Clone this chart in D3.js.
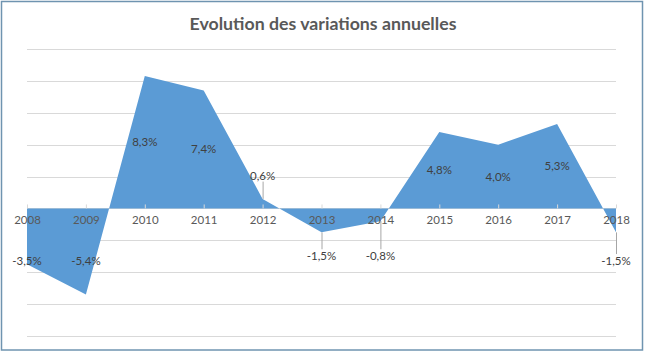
<!DOCTYPE html>
<html>
<head>
<meta charset="utf-8">
<script src="https://cdn.jsdelivr.net/npm/d3@7"></script>
<style>
  html, body { margin: 0; padding: 0; background: #fff; }
  svg { display: block; }
</style>
</head>
<body>
<div id="chart"></div>
<script>
// ---- data ----
const years = ["2008","2009","2010","2011","2012","2013","2014","2015","2016","2017","2018"];
const variations = [-3.5, -5.4, 8.3, 7.4, 0.6, -1.5, -0.8, 4.8, 4.0, 5.3, -1.5];
const labels = ["-3,5%","-5,4%","8,3%","7,4%","0,6%","-1,5%","-0,8%","4,8%","4,0%","5,3%","-1,5%"];
const gridTicks = [-8, -6, -4, -2, 0, 2, 4, 6, 8, 10];
const title = "Evolution des variations annuelles";

// label placement (value units) for manually moved labels; null = centred in area
const labelAt = [-3.3, -3.3, null, null, 2.06, -3.0, -3.0, null, null, null, -3.3];
const leader = [false, false, false, false, true, true, true, false, false, false, true];

// ---- layout ----
const W = 646, H = 355;
const svg = d3.select("#chart").append("svg").attr("width", W).attr("height", H);

svg.append("rect").attr("x", 1.5).attr("y", 1.5).attr("width", 641).attr("height", 348.5)
  .attr("fill", "#fff").attr("stroke", "#6f94b0").attr("stroke-width", 1.5);

const x = d3.scalePoint().domain(years).range([27, 616]);
const y = d3.scaleLinear().domain([-8, 10]).range([336, 49]);

// gridlines
svg.append("g").selectAll("line").data(gridTicks).join("line")
  .attr("x1", 27).attr("x2", 616)
  .attr("y1", d => Math.round(y(d)) + 0.5).attr("y2", d => Math.round(y(d)) + 0.5)
  .attr("stroke", "#d9d9d9").attr("stroke-width", 1);

// title
const t = svg.append("text").attr("x", 323).attr("y", 30).attr("text-anchor", "middle")
  .attr("font-family", "Lato, 'Open Sans', sans-serif").attr("font-weight", "bold")
  .attr("font-size", 18).attr("fill", "#595959").text(title);
const tw = t.node().getComputedTextLength();
t.attr("font-size", 18 * 267 / tw);

// area
const area = d3.area().x((d, i) => x(years[i])).y0(y(0)).y1(d => y(d));
svg.append("path").datum(variations).attr("d", area).attr("fill", "#5b9bd5");

// axis at zero (ticks pointing up)
const axis = d3.axisBottom(x).tickSize(-4).tickPadding(4);
const ax = svg.append("g").attr("transform", `translate(0,${y(0)})`).call(axis);
ax.select(".domain").remove();
ax.selectAll(".tick line").attr("stroke", "#d9d9d9");
ax.selectAll(".tick text").attr("font-family", "Lato, 'Open Sans', sans-serif")
  .attr("font-size", 11.5).attr("fill", "#595959").attr("dy", "0.95em").attr("y", 5);

// data labels
const pts = variations.map((v, i) => ({ v, i, year: years[i], label: labels[i] }));
const labY = p => labelAt[p.i] !== null ? y(labelAt[p.i]) : (y(p.v) + y(0)) / 2;

svg.append("g").selectAll("line").data(pts.filter(p => leader[p.i])).join("line")
  .attr("x1", p => x(p.year) + 0.5).attr("x2", p => x(p.year) + 0.5)
  .attr("y1", p => p.v >= 0 ? labY(p) + 6 : y(p.v))
  .attr("y2", p => p.v >= 0 ? y(p.v) : labY(p) - 7)
  .attr("stroke", "#a6a6a6").attr("stroke-width", 1);

svg.append("g").selectAll("text").data(pts).join("text")
  .attr("x", p => x(p.year))
  .attr("y", p => labY(p))
  .attr("dy", "0.35em")
  .attr("text-anchor", "middle")
  .attr("font-family", "Lato, 'Open Sans', sans-serif")
  .attr("font-size", 11.5).attr("fill", "#404040")
  .text(p => p.label);
</script>
</body>
</html>
